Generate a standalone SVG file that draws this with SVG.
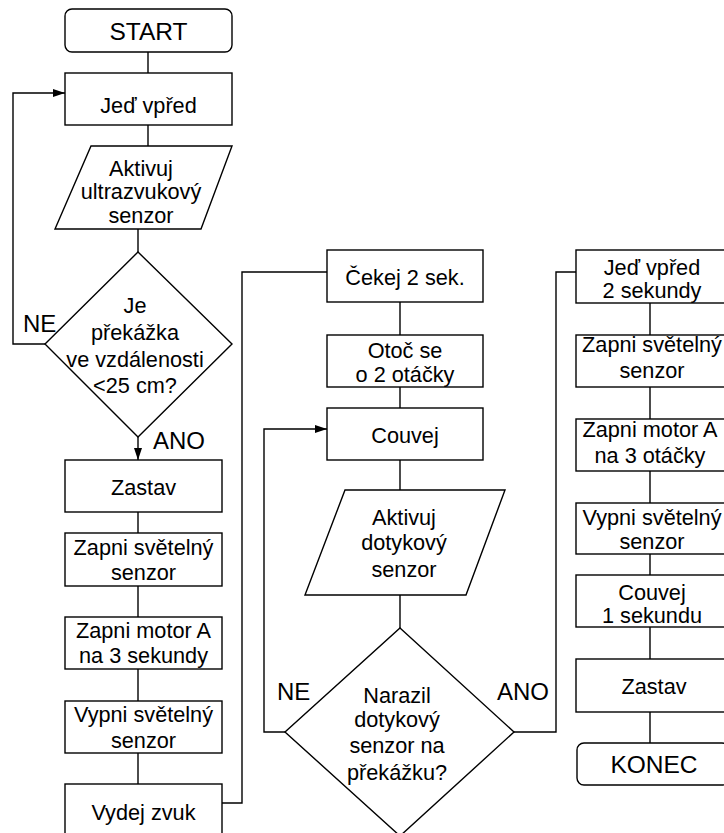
<svg xmlns="http://www.w3.org/2000/svg" width="724" height="833" viewBox="0 0 724 833">
<style>
.s{fill:#fff;stroke:#000;stroke-width:1.4}
.c{fill:none;stroke:#000;stroke-width:1.4}
text{font-family:"Liberation Sans",Arial,sans-serif;font-size:21.7px;fill:#000;text-anchor:middle}
.big{font-size:24.5px}
.lbl{font-size:24px;text-anchor:start}
</style>
<defs>
<marker id="ah" markerUnits="userSpaceOnUse" markerWidth="12" markerHeight="8" refX="12" refY="4" orient="auto">
<path d="M0,0 L12,4 L0,8 z" fill="#000"/>
</marker>
</defs>
<rect width="724" height="833" fill="#fff"/>
<g id="connectors">
<line class="c" x1="148" y1="52" x2="148" y2="73"/>
<line class="c" x1="148" y1="125" x2="148" y2="146"/>
<line class="c" x1="138" y1="229" x2="138" y2="252"/>
<polyline class="c" points="45,344 13,344 13,93 65,93" marker-end="url(#ah)"/>
<line class="c" x1="138" y1="437" x2="138" y2="460" marker-end="url(#ah)"/>
<line class="c" x1="138" y1="512" x2="138" y2="533"/>
<line class="c" x1="138" y1="586" x2="138" y2="617"/>
<line class="c" x1="138" y1="669" x2="138" y2="701"/>
<line class="c" x1="138" y1="753" x2="138" y2="784"/>
<polyline class="c" points="222,803 242,803 242,272 327,272"/>
<line class="c" x1="400" y1="302" x2="400" y2="335"/>
<line class="c" x1="400" y1="387" x2="400" y2="408"/>
<line class="c" x1="400" y1="460" x2="400" y2="490"/>
<line class="c" x1="400" y1="595" x2="400" y2="628"/>
<polyline class="c" points="285,732 264,732 264,429 327,429" marker-end="url(#ah)"/>
<polyline class="c" points="514,732 556,732 556,272 576,272"/>
<line class="c" x1="650" y1="303" x2="650" y2="335"/>
<line class="c" x1="650" y1="387" x2="650" y2="419"/>
<line class="c" x1="650" y1="471" x2="650" y2="503"/>
<line class="c" x1="650" y1="554" x2="650" y2="575"/>
<line class="c" x1="650" y1="627" x2="650" y2="659"/>
<line class="c" x1="650" y1="712" x2="650" y2="743"/>
</g>
<g id="labels">
<text class="lbl" x="23" y="332">NE</text>
<text class="lbl" x="153" y="449">ANO</text>
<text class="lbl" x="277" y="700">NE</text>
<text class="lbl" x="497" y="700">ANO</text>
</g>
<g id="start"><rect class="s" x="65" y="9" width="167" height="43" rx="7"/><text class="big" x="148.5" y="39.5">START</text></g>
<g id="jed-vpred"><rect class="s" x="65" y="73" width="167" height="52"/><text x="148.5" y="112.5">Jeď vpřed</text></g>
<g id="aktivuj-ultra"><polygon class="s" points="91,146 232,146 201,229 55,229"/><text x="141" y="175.5">Aktivuj</text><text x="141" y="199">ultrazvukový</text><text x="141" y="222.7">senzor</text></g>
<g id="je-prekazka"><polygon class="s" points="138,252 232,344 138,437 45,344"/><text x="135" y="312.7">Je</text><text x="135" y="340">překážka</text><text x="135" y="367">ve vzdálenosti</text><text x="135" y="393">&lt;25 cm?</text></g>
<g id="zastav1"><rect class="s" x="65" y="460" width="157" height="52"/><text x="143.5" y="495">Zastav</text></g>
<g id="zapni-svetelny1"><rect class="s" x="65" y="533" width="157" height="53"/><text x="143.5" y="555">Zapni světelný</text><text x="143.5" y="580">senzor</text></g>
<g id="zapni-motor1"><rect class="s" x="65" y="617" width="157" height="52"/><text x="143.5" y="638.3">Zapni motor A</text><text x="143.5" y="663.3">na 3 sekundy</text></g>
<g id="vypni-svetelny1"><rect class="s" x="65" y="701" width="157" height="52"/><text x="143.5" y="721.7">Vypni světelný</text><text x="143.5" y="747.7">senzor</text></g>
<g id="vydej-zvuk"><rect class="s" x="65" y="784" width="157" height="52"/><text x="143.5" y="820">Vydej zvuk</text></g>
<g id="cekej"><rect class="s" x="327" y="250" width="156" height="52"/><text x="405" y="285">Čekej 2 sek.</text></g>
<g id="otoc"><rect class="s" x="327" y="335" width="156" height="52"/><text x="405" y="358.3">Otoč se</text><text x="405" y="381.7">o 2 otáčky</text></g>
<g id="couvej"><rect class="s" x="327" y="408" width="156" height="52"/><text x="405" y="443">Couvej</text></g>
<g id="aktivuj-dotyk"><polygon class="s" points="345,490 505,490 466,595 305,595"/><text x="404" y="525">Aktivuj</text><text x="404" y="550">dotykový</text><text x="404" y="576.7">senzor</text></g>
<g id="narazil"><polygon class="s" points="400,628 514,732 400,836 285,732"/><text x="397" y="703">Narazil</text><text x="397" y="727">dotykový</text><text x="397" y="753">senzor na</text><text x="397" y="780">překážku?</text></g>
<g id="jed-vpred-2"><rect class="s" x="576" y="250" width="152" height="53"/><text x="652" y="275">Jeď vpřed</text><text x="652" y="298.3">2 sekundy</text></g>
<g id="zapni-svetelny2"><rect class="s" x="576" y="335" width="152" height="52"/><text x="652" y="351.7">Zapni světelný</text><text x="652" y="378.3">senzor</text></g>
<g id="zapni-motor2"><rect class="s" x="576" y="419" width="152" height="52"/><text x="650" y="436.7">Zapni motor A</text><text x="650" y="463.3">na 3 otáčky</text></g>
<g id="vypni-svetelny2"><rect class="s" x="576" y="503" width="152" height="51"/><text x="652" y="525">Vypni světelný</text><text x="652" y="549">senzor</text></g>
<g id="couvej2"><rect class="s" x="576" y="575" width="152" height="52"/><text x="652" y="600">Couvej</text><text x="652" y="623">1 sekundu</text></g>
<g id="zastav2"><rect class="s" x="576" y="659" width="152" height="53"/><text x="654" y="694">Zastav</text></g>
<g id="konec"><rect class="s" x="577" y="743" width="152" height="42" rx="7"/><text class="big" x="654" y="772.7">KONEC</text></g>
</svg>
